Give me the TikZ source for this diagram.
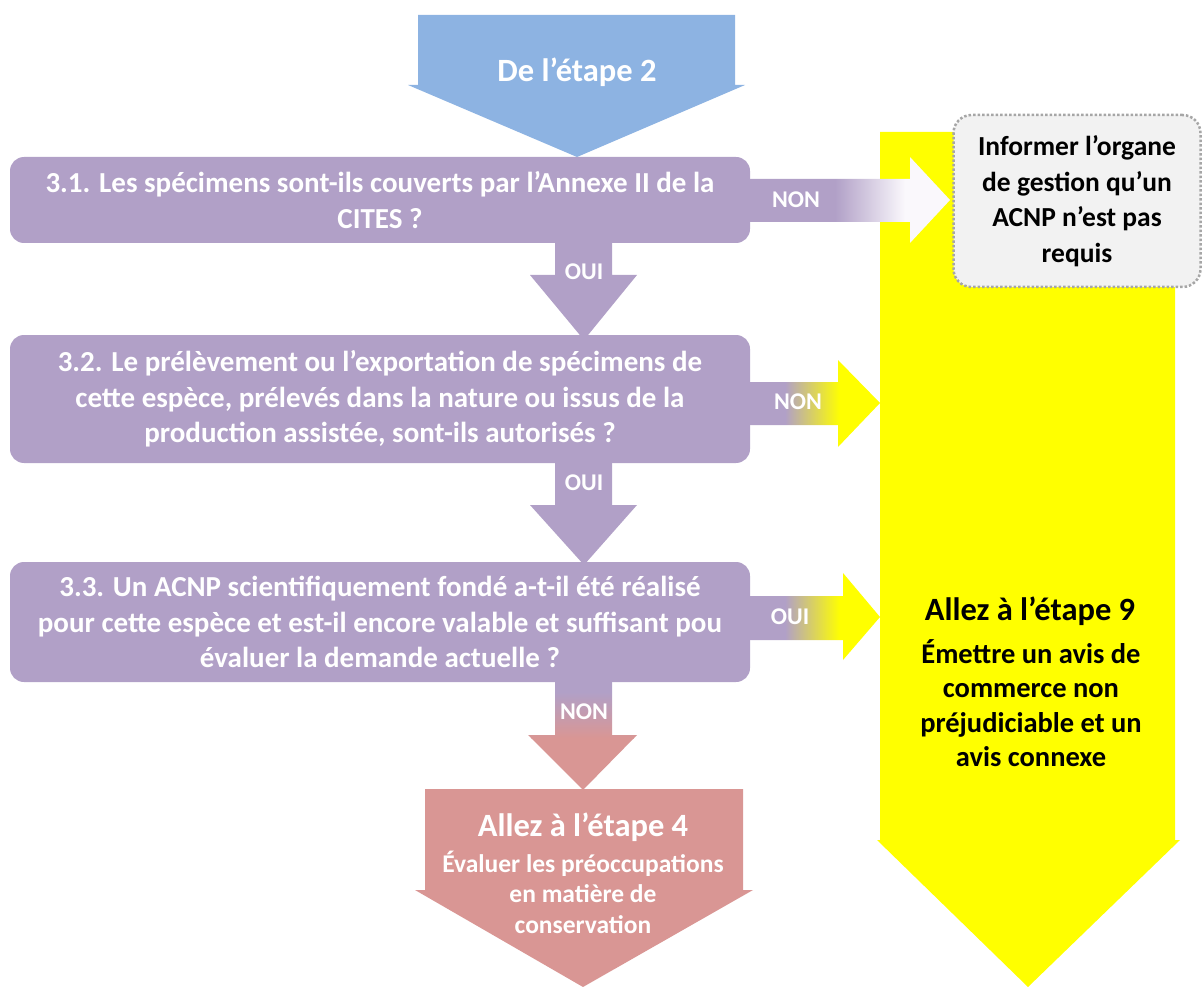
\documentclass[tikz,border=0pt]{standalone}
\usepackage{fontspec}
\setmainfont{Carlito}
\definecolor{purp}{HTML}{B1A0C7}
\definecolor{bluea}{HTML}{8DB3E2}
\definecolor{pinka}{HTML}{D99694}
\definecolor{yel}{HTML}{FFFF00}
\definecolor{grayfill}{HTML}{F2F2F2}
\definecolor{grayline}{HTML}{A6A6A6}
\definecolor{whitish}{HTML}{FAF8FC}
\begin{document}
\begin{tikzpicture}[x=1pt,y=-1pt,
  qbox/.style={fill=purp, rounded corners=14pt, minimum width=740pt, align=center, text=white, inner sep=0pt, font=\bfseries\fontsize{29}{35.5}\selectfont},
  lbl/.style={text=white, inner sep=0pt, font=\bfseries\fontsize{24}{28}\selectfont},
  ttl/.style={inner sep=0pt, align=center, font=\bfseries\fontsize{32.5}{38}\selectfont},
  body/.style={inner sep=0pt, align=center, font=\bfseries\fontsize{28.5}{34.5}\selectfont},
  ]
\useasboundingbox (0,0) rectangle (1203,987);
% yellow arrow (behind)
\fill[yel] (880,132) -- (1175,132) -- (1175,840) -- (1180,840) -- (1028,987) -- (877,840) -- (880,840) -- cycle;
% info box
\node[draw=grayline, line width=2.5pt, dotted, fill=grayfill, rounded corners=18pt, minimum width=247pt, minimum height=172pt, align=center, inner sep=0pt, font=\bfseries\fontsize{27.5}{35.5}\selectfont] (info) at (1077,201) {Informer l’organe\\de gestion qu’un\\ACNP n’est pas\\requis};
% blue arrow
\fill[bluea] (418,15) -- (735,15) -- (735,85) -- (745,85) -- (577,157) -- (408,85) -- (418,85) -- cycle;
\node[ttl, text=white] (from2) at (577,72) {De l’étape 2};
% purple down arrows
\fill[purp] (555,240) -- (612,240) -- (612,275) -- (637,275) -- (584,340) -- (530,275) -- (555,275) -- cycle;
\fill[purp] (555,460) -- (612,460) -- (612,505) -- (637,505) -- (584,565) -- (530,505) -- (555,505) -- cycle;
% right arrow 1 (to white)
\begin{scope}
\clip (745,179) -- (910,179) -- (910,157) -- (950,200) -- (910,243) -- (910,222) -- (745,222) -- cycle;
\fill[purp] (740,150) rectangle (835,250);
\shade[left color=purp, right color=whitish] (835,150) rectangle (905,250);
\fill[whitish] (905,150) rectangle (955,250);
\end{scope}
% right arrow 2 (to yellow)
\begin{scope}
\clip (745,382) -- (838,382) -- (838,360) -- (880,403) -- (838,447) -- (838,425) -- (745,425) -- cycle;
\fill[purp] (740,350) rectangle (785,450);
\shade[left color=purp, right color=yel] (785,350) rectangle (840,450);
\fill[yel] (840,350) rectangle (885,450);
\end{scope}
% right arrow 3 (to yellow)
\begin{scope}
\clip (745,596) -- (843,596) -- (843,573) -- (880,617) -- (843,660) -- (843,640) -- (745,640) -- cycle;
\fill[purp] (740,565) rectangle (785,665);
\shade[left color=purp, right color=yel] (785,565) rectangle (840,665);
\fill[yel] (840,565) rectangle (885,665);
\end{scope}
% down arrow 4 (to pink)
\begin{scope}
\clip (555,678) -- (612,678) -- (612,735) -- (637,735) -- (583,790) -- (528,735) -- (555,735) -- cycle;
\fill[purp] (520,675) rectangle (645,692);
\shade[top color=purp, bottom color=pinka] (520,692) rectangle (645,738);
\fill[pinka] (520,738) rectangle (645,795);
\end{scope}
% pink arrow
\fill[pinka] (425,789) -- (743,789) -- (743,890) -- (753,890) -- (583,987) -- (415,890) -- (425,890) -- cycle;
% question boxes
\node[qbox, minimum height=86pt] (q1) at (380,200) {3.1. Les spécimens sont-ils couverts par l’Annexe II de la\\CITES ?};
\node[qbox, minimum height=128pt] (q2) at (380,399) {3.2. Le prélèvement ou l’exportation de spécimens de\\cette espèce, prélevés dans la nature ou issus de la\\production assistée, sont-ils autorisés ?};
\node[qbox, minimum height=120pt] (q3) at (380,622) {3.3. Un ACNP scientifiquement fondé a-t-il été réalisé\\pour cette espèce et est-il encore valable et suffisant pou\\évaluer la demande actuelle ?};
% labels
\node[lbl] (n1) at (796,200) {NON};
\node[lbl] (o1) at (584,272) {OUI};
\node[lbl] (n2) at (798,402) {NON};
\node[lbl] (o2) at (584,483) {OUI};
\node[lbl] (o3) at (790,617) {OUI};
\node[lbl] (n3) at (584,712) {NON};
% step 9
\node[ttl] (go9) at (1030,611) {Allez à l’étape 9};
\node[body] (go9b) at (1031,703) {Émettre un avis de\\commerce non\\préjudiciable et un\\avis connexe};
% step 4
\node[ttl, text=white] (go4) at (583,827) {Allez à l’étape 4};
\node[inner sep=0pt, align=center, text=white, font=\bfseries\fontsize{25.5}{30.5}\selectfont] (go4b) at (583,892) {Évaluer les préoccupations\\en matière de\\conservation};
\end{tikzpicture}
\end{document}
